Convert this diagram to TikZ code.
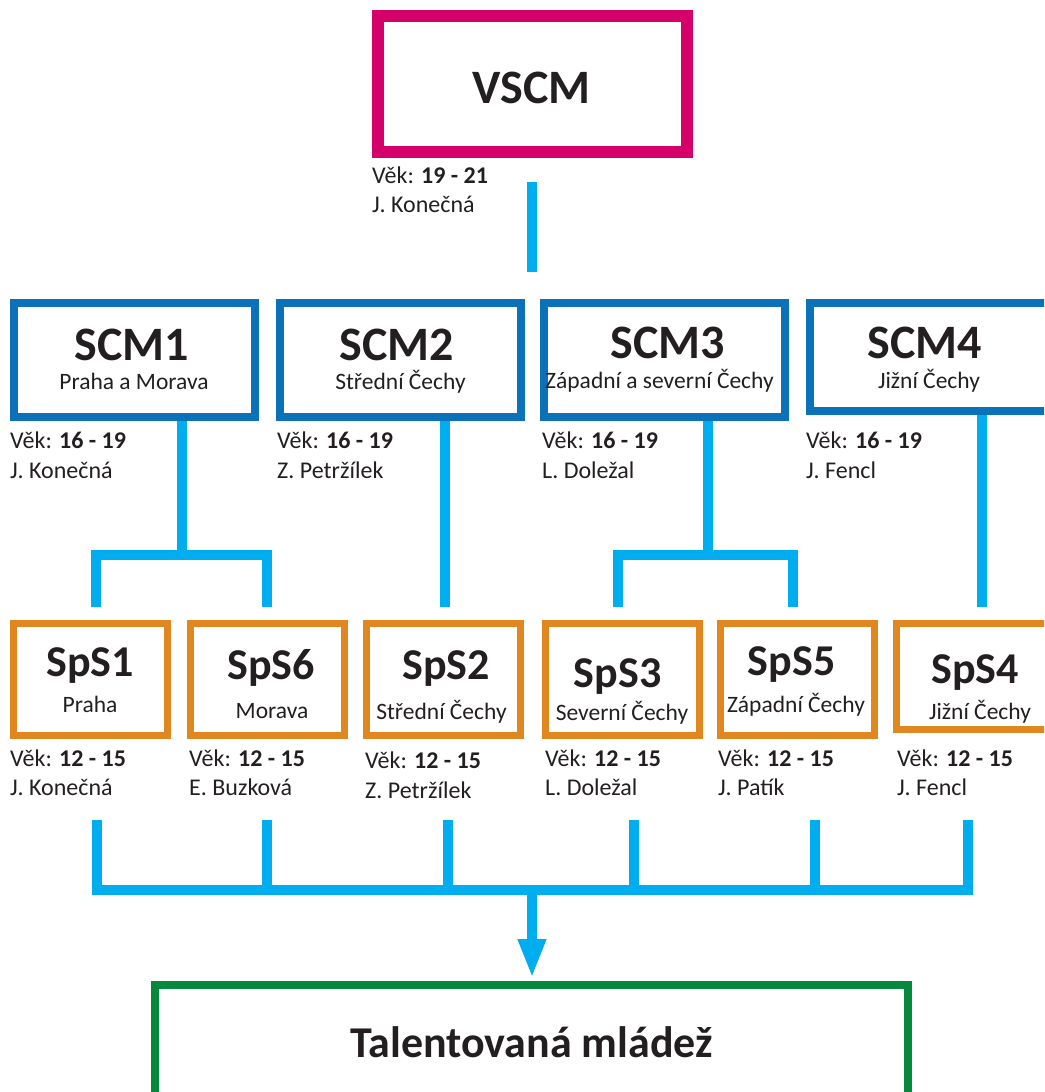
\documentclass[tikz,border=0pt]{standalone}
\usepackage{fontspec}
\setmainfont{Carlito}
\usetikzlibrary{arrows.meta}

\definecolor{vscmred}{HTML}{D50069}
\definecolor{scmblue}{HTML}{0B72B9}
\definecolor{linkblue}{HTML}{00AEEF}
\definecolor{spsorange}{HTML}{E0871F}
\definecolor{tmgreen}{HTML}{07893D}
\definecolor{txt}{HTML}{231F20}

\tikzset{
  vscmbox/.style={draw=vscmred, line width=12pt, inner sep=0pt, minimum width=309pt, minimum height=136pt},
  scmbox/.style={draw=scmblue, line width=8pt, inner sep=0pt, minimum width=241pt, minimum height=114pt},
  spsbox/.style={draw=spsorange, line width=7pt, inner sep=0pt, minimum width=154pt, minimum height=112pt},
  tmbox/.style={draw=tmgreen, line width=8pt, inner sep=0pt, minimum width=753pt, minimum height=125pt},
  bigtitle/.style={anchor=base, inner sep=0pt, text=txt, font=\fontsize{48}{48}\selectfont\bfseries},
  spstitle/.style={anchor=base, inner sep=0pt, text=txt, font=\fontsize{44}{44}\selectfont\bfseries},
  region/.style={anchor=base, inner sep=0pt, text=txt, font=\fontsize{23.5}{23.5}\selectfont},
  info/.style={anchor=base west, inner sep=0pt, text=txt, font=\fontsize{24}{24}\selectfont},
  conn/.style={draw=linkblue, line width=10pt},
}

\begin{document}
\begin{tikzpicture}[x=1pt, y=-1pt]
                \useasboundingbox (0,0) rectangle (1044,1092);
                \clip (0,0) rectangle (1044,1092);

                % top level
                \node[vscmbox] (vscm) at (532.5,84) {};
                \node[bigtitle] (vscmt) at (531.5,103) {VSCM};
                \node[info] (vscma) at (372,183) {Věk: \textbf{19 - 21}};
                \node[info] (vscmn) at (372,212) {J. Konečná};

                % SCM row
                \node[scmbox] (scm1) at (134,360) {};
                \node[scmbox] (scm2) at (400,360) {};
                \node[scmbox] (scm3) at (664.5,360) {};
                \node[scmbox, minimum height=108pt] (scm4) at (930.5,357) {};

                \node[bigtitle] (scm1t) at (131.5,360) {SCM1};
                \node[bigtitle] (scm2t) at (396.5,360) {SCM2};
                \node[bigtitle] (scm3t) at (667.5,358) {SCM3};
                \node[bigtitle] (scm4t) at (925,358) {SCM4};
                \node[region] (scm1r) at (134,389) {Praha a Morava};
                \node[region] (scm2r) at (400.5,389) {Střední Čechy};
                \node[region] (scm3r) at (659.5,388) {Západní a severní Čechy};
                \node[region] (scm4r) at (929,388) {Jižní Čechy};

                \node[info] (scm1a) at (10,448) {Věk: \textbf{16 - 19}};
                \node[info] (scm1n) at (10,478) {J. Konečná};
                \node[info] (scm2a) at (277,448) {Věk: \textbf{16 - 19}};
                \node[info] (scm2n) at (277,478) {Z. Petržílek};
                \node[info] (scm3a) at (542,448) {Věk: \textbf{16 - 19}};
                \node[info] (scm3n) at (542,478) {L. Doležal};
                \node[info] (scm4a) at (806,448) {Věk: \textbf{16 - 19}};
                \node[info] (scm4n) at (806,478) {J. Fencl};

                % SpS row
                \node[spsbox] (sps1) at (90.5,679.5) {};
                \node[spsbox] (sps6) at (267,679.5) {};
                \node[spsbox] (sps2) at (443.5,679.5) {};
                \node[spsbox] (sps3) at (622.5,679.5) {};
                \node[spsbox] (sps5) at (797.5,679.5) {};
                \node[spsbox, minimum height=106pt] (sps4) at (973.5,676.5) {};

                \node[spstitle] (sps1t) at (90,676) {SpS1};
                \node[spstitle] (sps6t) at (271,679) {SpS6};
                \node[spstitle] (sps2t) at (446,679) {SpS2};
                \node[spstitle] (sps3t) at (617.5,687) {SpS3};
                \node[spstitle] (sps5t) at (791.5,675) {SpS5};
                \node[spstitle] (sps4t) at (975,683) {SpS4};
                \node[region] (sps1r) at (90,712) {Praha};
                \node[region] (sps6r) at (272,718) {Morava};
                \node[region] (sps2r) at (441.5,719) {Střední Čechy};
                \node[region] (sps3r) at (622,720) {Severní Čechy};
                \node[region] (sps5r) at (796,712) {Západní Čechy};
                \node[region] (sps4r) at (980,719) {Jižní Čechy};

                \node[info] (sps1a) at (10,766) {Věk: \textbf{12 - 15}};
                \node[info] (sps1n) at (10,795) {J. Konečná};
                \node[info] (sps6a) at (189,766) {Věk: \textbf{12 - 15}};
                \node[info] (sps6n) at (189,795) {E. Buzková};
                \node[info] (sps2a) at (365,768) {Věk: \textbf{12 - 15}};
                \node[info] (sps2n) at (365,798) {Z. Petržílek};
                \node[info] (sps3a) at (545,766) {Věk: \textbf{12 - 15}};
                \node[info] (sps3n) at (545,795) {L. Doležal};
                \node[info] (sps5a) at (718,766) {Věk: \textbf{12 - 15}};
                \node[info] (sps5n) at (718,795) {J. Patík};
                \node[info] (sps4a) at (897,766) {Věk: \textbf{12 - 15}};
                \node[info] (sps4n) at (897,795) {J. Fencl};

                % bottom
                \node[tmbox] (tm) at (531.5,1047.5) {};
                \node[spstitle] (tmt) at (531.5,1057) {Talentovaná mládež};

                % connectors
                \coordinate (v1) at (532,182);
                \coordinate (v2) at (532,272);
                \draw[conn] (v1) -- (v2);

                \coordinate (f1) at (182,554.5);
                \coordinate (f1l) at (96,607);
                \coordinate (f1r) at (267,607);
                \draw[conn] (scm1.south -| f1) -- (f1);
                \draw[conn] (f1l) |- (f1) -| (f1r);

                \coordinate (f2) at (445,607);
                \draw[conn] (scm2.south -| f2) -- (f2);

                \coordinate (f3) at (708,554.5);
                \coordinate (f3l) at (618,607);
                \coordinate (f3r) at (793,607);
                \draw[conn] (scm3.south -| f3) -- (f3);
                \draw[conn] (f3l) |- (f3) -| (f3r);

                \coordinate (f4) at (982,607);
                \draw[conn] (scm4.south -| f4) -- (f4);

                \coordinate (hub) at (532,890);
                \coordinate (d1) at (97,820);
                \coordinate (d2) at (267,820);
                \coordinate (d3) at (448,820);
                \coordinate (d4) at (634,820);
                \coordinate (d5) at (815,820);
                \coordinate (d6) at (968,820);
                \draw[conn] (d1) |- (hub) -| (d6);
                \draw[conn] (d2) -- (d2 |- hub);
                \draw[conn] (d3) -- (d3 |- hub);
                \draw[conn] (d4) -- (d4 |- hub);
                \draw[conn] (d5) -- (d5 |- hub);
                \draw[conn, -{Triangle[length=39pt, width=26pt]}] (hub) -- ([yshift=3pt]tm.north -| hub);
            \end{tikzpicture}
\end{document}
